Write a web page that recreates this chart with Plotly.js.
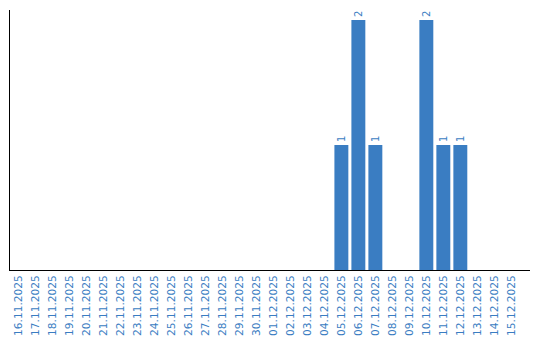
<!DOCTYPE html>
<html>
<head>
<meta charset="utf-8">
<script src="https://cdn.plot.ly/plotly-3.0.1.min.js"></script>
<style>html,body{margin:0;padding:0;background:#fff;}#chart{width:540px;height:340px;}</style>
</head>
<body>
<div id="chart"></div>
<script>
const dates = ["16.11.2025","17.11.2025","18.11.2025","19.11.2025","20.11.2025","21.11.2025","22.11.2025","23.11.2025","24.11.2025","25.11.2025","26.11.2025","27.11.2025","28.11.2025","29.11.2025","30.11.2025","01.12.2025","02.12.2025","03.12.2025","04.12.2025","05.12.2025","06.12.2025","07.12.2025","08.12.2025","09.12.2025","10.12.2025","11.12.2025","12.12.2025","13.12.2025","14.12.2025","15.12.2025"];
const counts = [0,0,0,0,0,0,0,0,0,0,0,0,0,0,0,0,0,0,0,1,2,1,0,0,2,1,1,0,0,0];
const labels = counts.map(v => v > 0 ? String(v) : "");

const blue = "#3a7dc2";
Plotly.newPlot("chart", [{
  type: "bar",
  x: dates,
  y: counts,
  text: labels,
  textposition: "outside",
  textangle: -90,
  cliponaxis: false,
  textfont: {family: "DejaVu Sans", size: 10, color: blue},
  marker: {color: blue},
  width: 0.82,
  hoverinfo: "none"
}], {
  width: 540, height: 340,
  margin: {l: 10, r: 10, t: 10, b: 70},
  paper_bgcolor: "#fff", plot_bgcolor: "#fff",
  showlegend: false,
  xaxis: {
    type: "category",
    range: [-0.5, 30.1],
    showline: true, linecolor: "#000", linewidth: 1,
    ticks: "", tickangle: -90,
    tickfont: {family: "DejaVu Sans", size: 10.6, color: blue},
    showgrid: false, zeroline: false
  },
  yaxis: {
    range: [0, 2.08],
    showline: true, linecolor: "#000", linewidth: 1,
    showticklabels: false, ticks: "",
    showgrid: false, zeroline: false
  }
}, {displayModeBar: false, staticPlot: true});
</script>
</body>
</html>
